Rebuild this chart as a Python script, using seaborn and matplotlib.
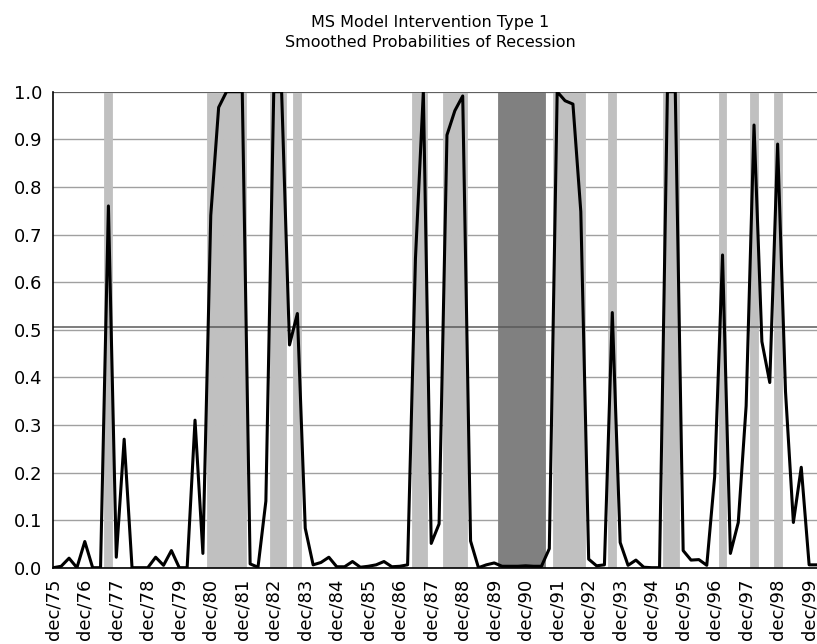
import numpy as np
import pandas as pd
import seaborn as sns
import matplotlib.pyplot as plt

# quarterly labels dec/75 ... mar/00
quarters = []
for yr in range(75, 100):
    for mon in ['mar', 'jun', 'sep', 'dec']:
        quarters.append(f'{mon}/{yr:02d}')
quarters = quarters[3:] + ['mar/00']

# smoothed probability of recession, one value per quarter
prob = [0.0, 0.003, 0.02, 0.0, 0.055, 0.0, 0.0, 0.76, 0.022, 0.27,
        0.0, 0.0, 0.0, 0.022, 0.005, 0.036, 0.0, 0.0, 0.31, 0.03,
        0.74, 0.967, 1.0, 1.0, 1.0, 0.008, 0.001, 0.14, 1.0, 1.0,
        0.468, 0.534, 0.083, 0.006, 0.011, 0.022, 0.002, 0.002, 0.013, 0.001,
        0.003, 0.006, 0.013, 0.002, 0.003, 0.006, 0.65, 1.0, 0.051, 0.092,
        0.909, 0.96, 0.991, 0.056, 0.0, 0.006, 0.01, 0.003, 0.003, 0.003,
        0.004, 0.003, 0.003, 0.04, 1.0, 0.981, 0.974, 0.748, 0.018, 0.004,
        0.006, 0.536, 0.053, 0.005, 0.016, 0.001, 0.0, 0.0, 1.0, 1.0,
        0.036, 0.016, 0.017, 0.005, 0.191, 0.657, 0.03, 0.095, 0.34, 0.93,
        0.475, 0.389, 0.89, 0.37, 0.095, 0.211, 0.006, 0.006]

# shaded quarters (light = recession dates, dark = intervention period)
recession_light = ['sep/77',
                   'dec/80', 'mar/81', 'jun/81', 'sep/81', 'dec/81',
                   'dec/82', 'mar/83', 'sep/83',
                   'jun/87', 'sep/87',
                   'jun/88', 'sep/88', 'dec/88',
                   'dec/91', 'mar/92', 'jun/92', 'sep/92',
                   'sep/93', 'jun/95', 'sep/95',
                   'mar/97', 'mar/98', 'dec/98']
recession_dark = ['mar/90', 'jun/90', 'sep/90', 'dec/90', 'mar/91', 'jun/91']
threshold = 0.506

df = pd.DataFrame({'q': range(len(quarters)), 'prob': prob})

sns.set_style('white')
plt.rcParams['font.family'] = ['DejaVu Sans']
plt.rcParams['text.color'] = 'black'
plt.rcParams['xtick.color'] = 'black'
plt.rcParams['ytick.color'] = 'black'

fig = plt.figure(figsize=(8.17, 6.44), dpi=100)
ax = fig.add_axes([53.3 / 817, 76.3 / 644, 763.7 / 817, 476 / 644])

idx = {q: i for i, q in enumerate(quarters)}
ax.bar([idx[q] for q in recession_light], 1.0, width=1.0, color='#c0c0c0',
       edgecolor='#c0c0c0', linewidth=0.6, zorder=1)
ax.bar([idx[q] for q in recession_dark], 1.0, width=1.0, color='#808080',
       edgecolor='#808080', linewidth=0.6, zorder=1)

ax.axhline(threshold, color='#5a5a5a', lw=1.1, zorder=2)
ax.axhline(1.0, color='#5a5a5a', lw=1.3, zorder=2)

sns.lineplot(data=df, x='q', y='prob', color='black', lw=2.2, ax=ax, zorder=3)

ax.set_xlim(0, 96.8)
ax.set_ylim(0, 1.0)
ax.set_yticks(np.arange(0, 1.01, 0.1))
ax.set_yticklabels([f'{v:.1f}' for v in np.arange(0, 1.01, 0.1)], fontsize=13)
ax.set_xticks(range(len(quarters)))
ax.set_xticklabels([q if q.startswith('dec') else '' for q in quarters],
                   rotation=90, fontsize=13)
ax.yaxis.grid(True, color='#a0a0a0', lw=1)
ax.set_axisbelow(True)
ax.tick_params(axis='both', direction='out', length=5, width=1,
               color='black', labelcolor='black', pad=3)
ax.set_xlabel('')
ax.set_ylabel('')

for s in ['top', 'right']:
    ax.spines[s].set_visible(False)
for s in ['left', 'bottom']:
    ax.spines[s].set_color('black')
    ax.spines[s].set_linewidth(1.2)
    ax.spines[s].set_zorder(4)

fig.text(0.527, 1 - 22.7 / 644, 'MS Model Intervention Type 1',
         ha='center', va='center', fontsize=11.5, color='black')
fig.text(0.527, 1 - 42.7 / 644, 'Smoothed Probabilities of Recession',
         ha='center', va='center', fontsize=11.5, color='black')

fig.savefig('out.png', dpi=100)
